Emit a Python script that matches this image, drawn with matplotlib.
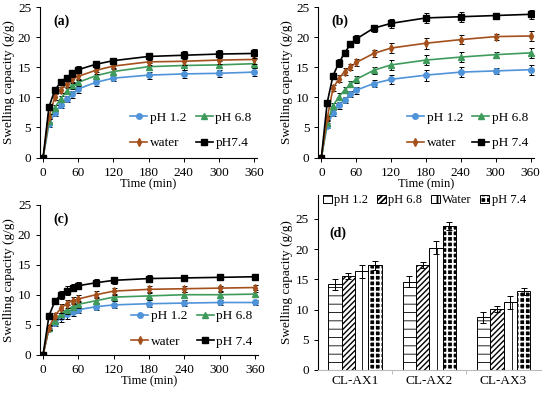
import numpy as np
import matplotlib
matplotlib.use("Agg")
import matplotlib.pyplot as plt
from matplotlib.legend_handler import HandlerTuple

plt.rcParams['font.family'] = ['Liberation Serif', 'DejaVu Serif']

time = [0, 10, 20, 30, 40, 50, 60, 90, 120, 180, 240, 300, 360]
series_names = ["pH 1.2", "pH 6.8", "water", "pH 7.4"]
series_names_a = ["pH 1.2", "pH 6.8", "water", "pH7.4"]

# panel (a) CL-AX1
a_ph12 = [0, 5.5, 7.4, 8.7, 9.7, 10.5, 11.4, 12.5, 13.2, 13.7, 13.9, 14.0, 14.2]
a_ph68 = [0, 6.0, 8.3, 9.8, 11.0, 12.0, 12.5, 13.6, 14.3, 15.1, 15.3, 15.4, 15.6]
a_water = [0, 6.8, 10.0, 11.3, 12.2, 13.0, 13.5, 14.5, 15.2, 15.9, 16.0, 16.2, 16.3]
a_ph74 = [0, 8.4, 11.2, 12.5, 13.3, 14.0, 14.6, 15.5, 16.1, 16.8, 17.0, 17.2, 17.3]
a_err = [0, 0.4, 0.5, 0.5, 0.5, 0.6, 0.6, 0.6, 0.5, 0.6, 0.7, 0.6, 0.7]

# panel (b) CL-AX2
b_ph12 = [0, 5.3, 7.4, 8.7, 9.6, 10.5, 11.2, 12.3, 13.0, 13.7, 14.2, 14.4, 14.6]
b_ph68 = [0, 5.8, 8.6, 10.1, 11.2, 12.2, 13.0, 14.5, 15.4, 16.2, 16.7, 17.1, 17.4]
b_water = [0, 6.5, 11.5, 13.1, 14.3, 15.0, 15.8, 17.3, 18.2, 19.0, 19.6, 20.1, 20.2]
b_ph74 = [0, 9.1, 13.6, 15.7, 17.4, 18.8, 19.7, 21.5, 22.3, 23.2, 23.4, 23.6, 23.8]
b_err = [0, 0.4, 0.5, 0.6, 0.5, 0.5, 0.6, 0.6, 0.8, 0.9, 0.8, 0.5, 0.8]

# panel (c) CL-AX3
c_ph12 = [0, 4.3, 5.3, 6.2, 6.7, 7.1, 7.5, 8.0, 8.3, 8.5, 8.6, 8.7, 8.7]
c_ph68 = [0, 4.4, 5.6, 6.7, 7.5, 8.0, 8.4, 9.0, 9.6, 9.8, 10.0, 10.0, 10.1]
c_water = [0, 4.5, 6.5, 7.7, 8.5, 9.0, 9.3, 10.0, 10.6, 10.9, 11.0, 11.1, 11.2]
c_ph74 = [0, 6.5, 8.9, 10.0, 10.7, 11.2, 11.5, 12.0, 12.4, 12.7, 12.8, 12.9, 13.0]
c_err = [0, 0.4, 0.5, 0.7, 0.7, 0.6, 0.6, 0.6, 0.6, 0.6, 0.5, 0.4, 0.4]

# panel (d) equilibrium swelling
samples = ["CL-AX1", "CL-AX2", "CL-AX3"]
bar_names = ["pH 1.2", "pH 6.8", "Water", "pH 7.4"]
eq_ph12 = [14.2, 14.6, 8.7]
eq_ph68 = [15.6, 17.4, 10.1]
eq_water = [16.3, 20.2, 11.2]
eq_ph74 = [17.3, 23.8, 13.0]
eq_err = [[0.9, 0.9, 0.9], [0.5, 0.5, 0.5], [1.1, 1.1, 1.1], [0.7, 0.7, 0.6]]

colors = ["#4f93d8", "#3f9b5c", "#a4501c", "#000000"]
markers = ["o", "^", "d", "s"]
msizes = [4, 4.5, 4, 4.5]

fig = plt.figure(figsize=(5.5, 3.94), dpi=100)


def line_panel(rect, data, err, label, names, legend_box):
    ax = fig.add_axes(rect)
    handles = []
    for k, ys in enumerate(data):
        ax.errorbar(time, ys, yerr=err, fmt="none", ecolor="black", elinewidth=0.7,
                    capsize=1.8, capthick=0.7, zorder=2 + k)
        h, = ax.plot(time, ys, color=colors[k], marker=markers[k], ms=msizes[k],
                     lw=1.2, label=names[k], zorder=3 + k)
        handles.append(h)
    ax.set_xlim(-5, 365)
    ax.set_ylim(0, 25)
    ax.set_xticks(range(0, 361, 60))
    ax.set_yticks(range(0, 26, 5))
    ax.spines['top'].set_visible(False)
    ax.spines['right'].set_visible(False)
    ax.tick_params(labelsize=9.5, direction="out", length=3, width=0.7)
    ax.set_xlabel("Time (min)", fontsize=9, labelpad=0)
    ax.set_ylabel("Swelling capacity (g/g)", fontsize=9.5, labelpad=2)
    ax.text(0.06, 0.88, label, transform=ax.transAxes, fontsize=10, fontweight="bold")
    order = [0, 2, 1, 3]
    ax.legend([handles[i] for i in order], [names[i] for i in order], ncol=2,
              loc="lower right", bbox_to_anchor=legend_box, frameon=False,
              fontsize=9.5, handlelength=1.3, handletextpad=0.2, columnspacing=0.7,
              labelspacing=1.0, borderaxespad=0)
    return ax


line_panel([0.073, 0.6, 0.394, 0.382], [a_ph12, a_ph68, a_water, a_ph74], a_err,
           "(a)", series_names_a, (1.0, 0.02))
line_panel([0.579, 0.6, 0.391, 0.382], [b_ph12, b_ph68, b_water, b_ph74], b_err,
           "(b)", series_names, (1.0, 0.02))
line_panel([0.073, 0.1, 0.396, 0.38], [c_ph12, c_ph68, c_water, c_ph74], c_err,
           "(c)", series_names, (1.0, 0.01))

axd = fig.add_axes([0.578, 0.061, 0.405, 0.445])
width = 0.18
x = np.arange(len(samples))

plt.rcParams['hatch.linewidth'] = 0.6
h1 = axd.bar(x - 1.5 * width, eq_ph12, width, color="white", edgecolor="black",
             hatch="--", lw=0.7, label=bar_names[0])
h3 = axd.bar(x + 0.5 * width, eq_water, width, color="white", edgecolor="black",
             hatch="||", lw=0.7, label=bar_names[2])
plt.rcParams['hatch.linewidth'] = 1.0
h2 = axd.bar(x - 0.5 * width, eq_ph68, width, color="white", edgecolor="black",
             hatch="//////", lw=0.7, label=bar_names[1])
plt.rcParams['hatch.linewidth'] = 1.3
h4a = axd.bar(x + 1.5 * width, eq_ph74, width, color="black", edgecolor="white",
              hatch="+++", lw=0)
h4b = axd.bar(x + 1.5 * width, eq_ph74, width, color="none", edgecolor="black", lw=0.7)

for k, vals in enumerate([eq_ph12, eq_ph68, eq_water, eq_ph74]):
    axd.errorbar(x + (k - 1.5) * width, vals, yerr=eq_err[k], fmt="none", ecolor="black",
                 elinewidth=0.7, capsize=2, capthick=0.7, zorder=4)

axd.set_xlim(-0.5, 2.5)
axd.set_ylim(0, 29)
axd.set_yticks(range(0, 26, 5))
axd.set_xticks(x)
axd.set_xticklabels(samples)
axd.set_xticks([0.5, 1.5], minor=True)
axd.tick_params(axis="x", which="major", length=0, labelsize=9.5)
axd.tick_params(axis="x", which="minor", length=3, width=0.7, color="#bbbbbb")
axd.tick_params(axis="y", labelsize=9.5, direction="out", length=3, width=0.7)
axd.spines['top'].set_visible(False)
axd.spines['right'].set_visible(False)
axd.spines['bottom'].set_color("#bbbbbb")
axd.set_ylabel("Swelling capacity (g/g)", fontsize=9.5, labelpad=2)
axd.text(0.05, 0.76, "(d)", transform=axd.transAxes, fontsize=10, fontweight="bold")
axd.legend([h1, h2, h3, (h4a, h4b)], bar_names, ncol=4, loc="upper left",
           bbox_to_anchor=(0.0, 1.03), frameon=False, fontsize=9,
           handlelength=0.7, handleheight=0.7, handletextpad=0.2,
           columnspacing=0.7, borderaxespad=0,
           handler_map={tuple: HandlerTuple(ndivide=1, pad=0)})

fig.savefig("out.png", dpi=100)
